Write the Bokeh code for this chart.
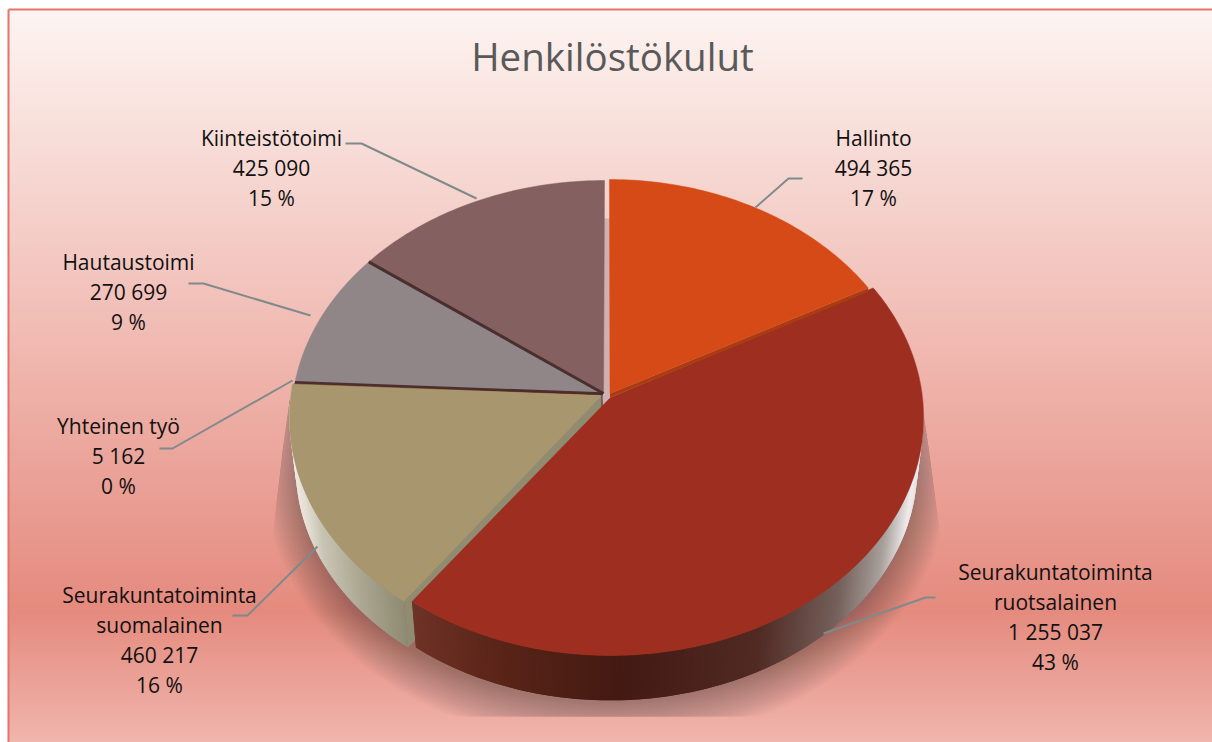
import math
from bokeh.plotting import figure
from bokeh.models import Range1d
from bokeh.core.properties import value
from bokeh.embed import file_html
from bokeh.resources import INLINE

# ---- data ----
title = "Henkilöstökulut"
categories = ["Hallinto", "Seurakuntatoiminta ruotsalainen", "Seurakuntatoiminta suomalainen",
              "Yhteinen työ", "Hautaustoimi", "Kiinteistötoimi"]
values = [494365, 1255037, 460217, 5162, 270699, 425090]
percents = ["17 %", "43 %", "16 %", "0 %", "9 %", "15 %"]
value_labels = ["494 365", "1 255 037", "460 217", "5 162", "270 699", "425 090"]
label_names = [["Hallinto"], ["Seurakuntatoiminta", "ruotsalainen"], ["Seurakuntatoiminta", "suomalainen"],
               ["Yhteinen työ"], ["Hautaustoimi"], ["Kiinteistötoimi"]]

# ---- style / layout ----
W, H = 1212, 742
colors = ["#d54a17", "#9e2e1f", "#a8966f", "#7a4a40", "#908688", "#856060"]
offsets = [(3, -1), (4, -1), (-4, -1), (-2, 0), (-2, 0), (-2, 0)]
apex_shift = [(3.5, -5), (4, -1), (-5, -3), (-4, -5), (-4, -5), (-3, -5)]
rim_scale = [0.985, 1.0, 1.0, 1.0, 1.0, 1.0]
label_x = [873, 1055, 159, 118, 128, 271]
label_y0 = [137, 571, 594, 425, 261, 137]
leaders = [([802, 788, 755], [178, 178, 207]),
           ([935, 925, 823], [597, 597, 633]),
           ([232, 247, 317], [615, 615, 546]),
           ([159, 172, 292], [448, 448, 380]),
           ([188, 203, 310], [283, 283, 315]),
           ([345, 361, 476], [143, 143, 198])]
CX, CY, RX, RY, K = 606.0, 398.0, 312.0, 236.3, 0.084
DEPTH, BSCALE = 50.0, 0.98

def project(theta, xscale=1.0):
    u, v = math.sin(theta), math.cos(theta)
    w = 1 + K * v
    return CX + RX * xscale * u / w, CY - RY * v / w

def lower(x, y):
    return (CX + (x - CX) * BSCALE, CY + (y - CY) * BSCALE + DEPTH)

def hex2rgb(h):
    return tuple(int(h[i:i + 2], 16) for i in (1, 3, 5))

def ramp(stops, t):
    if t <= stops[0][0]:
        return stops[0][1]
    for (a, ca), (b, cb) in zip(stops, stops[1:]):
        if t <= b:
            f = (t - a) / (b - a)
            ra, rb = hex2rgb(ca), hex2rgb(cb)
            return "#%02x%02x%02x" % tuple(round(p + (q - p) * f) for p, q in zip(ra, rb))
    return stops[-1][1]

p = figure(width=W, height=H, toolbar_location=None, output_backend="svg",
           x_range=Range1d(0, W), y_range=Range1d(H, 0), min_border=0,
           outline_line_color=None, background_fill_color=None, border_fill_color=None)
p.axis.visible = False
p.grid.visible = False

# background gradient
bg_stops = [(9, "#fdf4f1"), (610, "#e58a7e"), (742, "#f0b6ad")]
ys = list(range(9, H, 2))
p.quad(left=8, right=W, top=ys, bottom=[H] * len(ys),
       fill_color=[ramp(bg_stops, y) for y in ys], line_color=None)
p.line([8, 8], [H, 9], line_color="#e5756a", line_width=2)
p.line([8, W], [9, 9], line_color="#e5756a", line_width=2)

# angles
total = sum(values)
angs = [0.0]
for v in values:
    angs.append(angs[-1] + v / total * 2 * math.pi)

# shadow
def clamp_shadow(x, y):
    y = min(y, 716)
    t = min(max((y - 400) / 145, 0), 1)
    xl, xr = 288 - 17 * t, 922 + 19 * t
    return min(max(x, xl), xr), y

for d in range(2, 46, 2):
    sx, sy = [921.0], [400.0]
    for i in range(0, 91):
        th = math.pi / 2 + math.pi * i / 90
        x, y = lower(*project(th))
        f = 1 + d / 317 * 0.85
        x2, y2 = clamp_shadow(CX + (x - CX) * f, y + d * max(0.0, -math.cos(th)))
        sx.append(x2)
        sy.append(y2)
    sx.append(289.0)
    sy.append(400.0)
    p.patch(sx, sy, fill_color="#3a2020", fill_alpha=0.02, line_color=None)

# gap shade at the back of the pie
p.patch([CX - 4, CX + 5, CX + 5, CX - 4], [CY - 180, CY - 180, CY + 8, CY + 8],
        fill_color="#d2afb0", line_color=None)

wall_stops = {
    1: [(412, "#6f3226"), (500, "#5a2418"), (620, "#431a12"), (760, "#512a24"),
        (840, "#75605b"), (885, "#a8a09c"), (912, "#f0eeee")],
    2: [(294, "#f2efe6"), (320, "#c9c5b5"), (360, "#aaa690"), (405, "#8f8b72")],
}

def slice_poly(i, step=1.0):
    dx, dy = offsets[i]
    a, b = angs[i], angs[i + 1]
    n = max(2, int((b - a) / math.radians(step)))
    pts = [project(a + (b - a) * j / n, rim_scale[i]) for j in range(n + 1)]
    sx_, sy_ = apex_shift[i]
    return [(x + dx, y + dy) for x, y in pts], (CX + sx_, CY + sy_)

def draw_wall(i):
    pts, apex = slice_poly(i, 0.5)
    xs, ys2, cs = [], [], []
    for k in range(len(pts) - 1):
        x0, y0 = pts[k]
        x1, y1 = pts[min(k + 2, len(pts) - 1)]   # overlap the next step, so no seams show
        lx0, ly0 = lower(x0, y0)
        lx1, ly1 = lower(x1, y1)
        xs.append([x0, x1, lx1, lx0])
        ys2.append([y0, y1, ly1, ly0])
        cs.append(ramp(wall_stops[i], x0))
    p.patches(xs, ys2, fill_color=cs, line_color=None)

def radial_face(i, pt, color):
    pts, apex = slice_poly(i)
    x, y = pt
    lx, ly = lower(x, y)
    ax, ay = apex
    p.patch([ax, x, lx, ax], [ay, y, ly, ay + DEPTH], fill_color=color, line_color=None)

def draw_top(i):
    pts, apex = slice_poly(i)
    xs = [apex[0]] + [q[0] for q in pts]
    ys3 = [apex[1]] + [q[1] for q in pts]
    p.patch(xs, ys3, fill_color=colors[i], line_color=colors[i], line_width=0.5)

for i in (5, 4, 3):
    draw_top(i)
# dark edges of the back slices
for i, col, lw in ((5, "#4a2f30", 3), (4, "#4a3033", 2.5)):
    pts, apex = slice_poly(i)
    p.line([apex[0], pts[0][0]], [apex[1], pts[0][1]], line_color=col, line_width=lw)
pts3, apex3 = slice_poly(3)
p.line([apex3[0], pts3[0][0]], [apex3[1] + 1, pts3[0][1] - 1], line_color="#54291f", line_width=2)
p.line([apex3[0] - 1, apex3[0] - 1], [apex3[1] - 2, apex3[1] + 14], line_color="#3e2c2e", line_width=2)

# red sits under the Hallinto edge
draw_wall(2)
pts2, _ = slice_poly(2)
radial_face(2, pts2[0], "#8f8c72")
draw_top(2)

draw_wall(1)
draw_top(1)

pts0, apex0 = slice_poly(0)
xe, ye = pts0[-1]
p.patch([apex0[0], xe, xe, apex0[0]], [apex0[1], ye, ye + 4, apex0[1] + 4],
        fill_color="#a93c12", line_color=None)
draw_top(0)

for lx, ly in leaders:
    p.line(lx, ly, line_color="#7e8a8c", line_width=2)

FONT = value("Open Sans")
p.text([612], [55], text=[title], text_font=FONT, text_font_size="38.5px", text_color="#595959",
       text_align="center", text_baseline="middle")
tx, ty, tt = [], [], []
for i in range(len(categories)):
    lines = label_names[i] + [value_labels[i], percents[i]]
    for j, s in enumerate(lines):
        tx.append(label_x[i])
        ty.append(label_y0[i] + j * 30)
        tt.append(s)
p.text(tx, ty, text=tt, text_font=FONT, text_font_size="21px", text_color="#111111",
       text_align="center", text_baseline="middle")

open("out.html", "w").write(file_html(p, INLINE))
